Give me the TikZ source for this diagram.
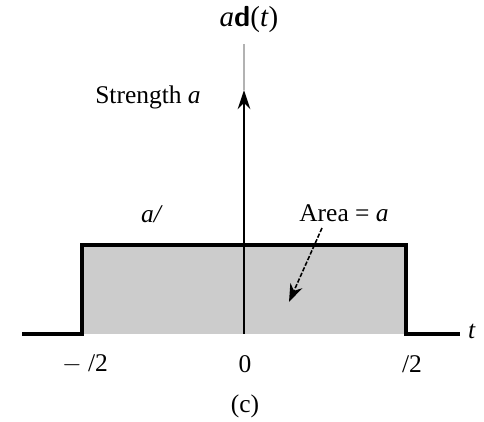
\documentclass[tikz,border=0pt]{standalone}
\usepackage{fontspec}
\setmainfont{Liberation Serif}
\usetikzlibrary{arrows.meta}
\definecolor{pulsegray}{RGB}{204,204,204}
\tikzset{
  pulseline/.style={line width=2.2pt, draw=black},
  axisline/.style={line width=1.6pt, draw=black},
  labeltext/.style={font=\fontsize{14.5}{16}\selectfont, inner sep=1pt},
  areaarrow/.style={-{Stealth[length=3.6mm,width=2.6mm]}, dash pattern=on 2.5pt off 1pt, line width=0.9pt}
}
\begin{document}
\begin{tikzpicture}[x=0.02cm, y=-0.02cm]
\useasboundingbox (0,0) rectangle (484,422);

% pulse of width epsilon
\coordinate (axisL) at (22,334);
\coordinate (axisR) at (460,334);
\coordinate (pulseBL) at (82,334);
\coordinate (pulseTL) at (82,245);
\coordinate (pulseTR) at (406,245);
\coordinate (pulseBR) at (406,334);
\fill[pulsegray] (pulseBL) rectangle (pulseTR);
\draw[pulseline] (axisL) -- (pulseBL) -- (pulseTL) -- (pulseTR) -- (pulseBR) -- (axisR);

% impulse
\coordinate (origin) at (244,334);
\coordinate (tip) at (244,90);
\coordinate (top) at (244,44);
\draw[gray!60, line width=1.2pt] (tip) -- (top);
\draw[axisline, -{Stealth[length=3.8mm,width=2.5mm]}] (origin) -- (tip);

% labels
\node[labeltext, font=\fontsize{16.5}{18}\selectfont] (fname) at (249,20) {\textit{a}\textsf{\bfseries d}(\textit{t})};
\node[labeltext] (strength) at (148,97) {Strength \textit{a}};
\node[labeltext] (height) at (152,214) {\textit{a/}};
\node[labeltext] (area) at (344,213) {Area = \textit{a}};
\node[labeltext] (tlabel) at (472,331) {\textit{t}};
\node[labeltext] (lefttick) at (85,364) {$-$ /2};
\node[labeltext] (zerotick) at (245,364) {0};
\node[labeltext] (righttick) at (412,364) {/2};
\node[labeltext] (caption) at (245,406) {(c)};

\coordinate (areatail) at (322,228);
\coordinate (areatip) at (289,302);
\draw[areaarrow] (areatail) -- (areatip);
\end{tikzpicture}
\end{document}
